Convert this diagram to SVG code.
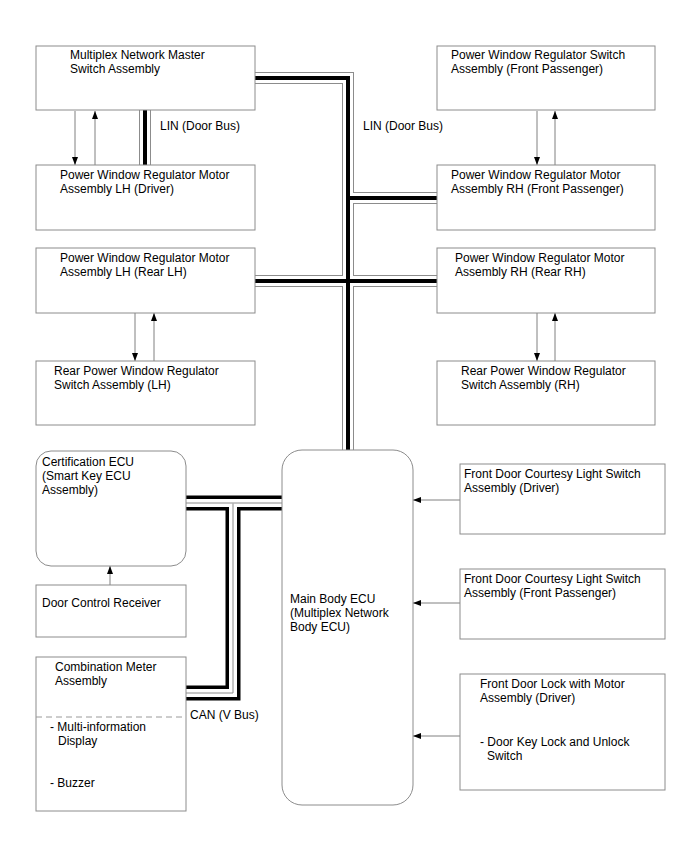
<svg xmlns="http://www.w3.org/2000/svg" width="688" height="852" viewBox="0 0 688 852">
<style>
text{font-family:"Liberation Sans",Arial,sans-serif;font-size:12px;fill:#000}
.box{fill:#fff;stroke:#8c8c8c;stroke-width:1}
.lo{fill:none;stroke:#8c8c8c;stroke-width:12}
.lw{fill:none;stroke:#fff;stroke-width:10}
.lk{fill:none;stroke:#000;stroke-width:4}
.co{fill:none;stroke:#000;stroke-width:15}
.cw{fill:none;stroke:#fff;stroke-width:8}
.cg{fill:none;stroke:#8c8c8c;stroke-width:1}
.ar{fill:none;stroke:#808080;stroke-width:1;marker-end:url(#ah)}
.dash{stroke:#9a9a9a;stroke-width:1;stroke-dasharray:6,4}
</style>
<defs>
<marker id="ah" markerUnits="userSpaceOnUse" markerWidth="8" markerHeight="8" refX="8" refY="3" orient="auto">
<path d="M0,0 L8,3 L0,6 Z" fill="#000"/>
</marker>
</defs>
<rect width="688" height="852" fill="#fff"/>
<g id="connectors">
<path class="lo" d="M255,78 H348 V450 M348,198 H437 M255,281 H437 M145,110 V165"/>
<path class="lw" d="M255,78 H348 V450 M348,198 H437 M255,281 H437 M145,110 V165"/>
<path class="lk" d="M255,78 H348 V450 M348,198 H437 M255,281 H437 M145,110 V165"/>
<path class="co" d="M186,503 H282 M233,503 V693 H186"/>
<path class="cw" d="M186,503 H282 M233,503 V693 H186"/>
<path class="cg" d="M186,503 H282 M233,503.5 V693 H186"/>
<line class="ar" x1="75" y1="111" x2="75" y2="165"/>
<line class="ar" x1="95" y1="165" x2="95" y2="111"/>
<line class="ar" x1="537" y1="111" x2="537" y2="165"/>
<line class="ar" x1="555" y1="165" x2="555" y2="111"/>
<line class="ar" x1="135" y1="313" x2="135" y2="361"/>
<line class="ar" x1="154" y1="361" x2="154" y2="313"/>
<line class="ar" x1="537" y1="313" x2="537" y2="361"/>
<line class="ar" x1="555" y1="361" x2="555" y2="313"/>
<line class="ar" x1="110" y1="585" x2="110" y2="566"/>
<line class="ar" x1="460" y1="500" x2="413" y2="500"/>
<line class="ar" x1="460" y1="603" x2="413" y2="603"/>
<line class="ar" x1="460" y1="736" x2="413" y2="736"/>
<text x="160" y="130">LIN (Door Bus)</text>
<text x="363" y="130">LIN (Door Bus)</text>
<text x="190" y="719">CAN (V Bus)</text>
</g>
<g id="master-switch">
<rect class="box" x="36" y="46" width="219" height="64"/>
<text x="70" y="59">Multiplex Network Master</text>
<text x="70" y="73">Switch Assembly</text>
</g>
<g id="motor-lh-driver">
<rect class="box" x="36" y="165" width="219" height="65"/>
<text x="60" y="179">Power Window Regulator Motor</text>
<text x="60" y="193">Assembly LH (Driver)</text>
</g>
<g id="switch-front-passenger">
<rect class="box" x="437" y="46" width="218" height="64"/>
<text x="451" y="59">Power Window Regulator Switch</text>
<text x="451" y="73">Assembly (Front Passenger)</text>
</g>
<g id="motor-rh-front-passenger">
<rect class="box" x="437" y="165" width="218" height="65"/>
<text x="451" y="179">Power Window Regulator Motor</text>
<text x="451" y="193">Assembly RH (Front Passenger)</text>
</g>
<g id="motor-lh-rear">
<rect class="box" x="36" y="248" width="219" height="65"/>
<text x="60" y="262">Power Window Regulator Motor</text>
<text x="60" y="276">Assembly LH (Rear LH)</text>
</g>
<g id="motor-rh-rear">
<rect class="box" x="437" y="248" width="218" height="65"/>
<text x="455" y="262">Power Window Regulator Motor</text>
<text x="455" y="276">Assembly RH (Rear RH)</text>
</g>
<g id="rear-switch-lh">
<rect class="box" x="36" y="361" width="219" height="64"/>
<text x="54" y="375">Rear Power Window Regulator</text>
<text x="54" y="389">Switch Assembly (LH)</text>
</g>
<g id="rear-switch-rh">
<rect class="box" x="437" y="361" width="218" height="64"/>
<text x="461" y="375">Rear Power Window Regulator</text>
<text x="461" y="389">Switch Assembly (RH)</text>
</g>
<g id="certification-ecu">
<rect class="box" x="36" y="451" width="150" height="115" rx="15" ry="15"/>
<text x="42" y="466">Certification ECU</text>
<text x="42" y="480">(Smart Key ECU</text>
<text x="42" y="494">Assembly)</text>
</g>
<g id="door-control-receiver">
<rect class="box" x="36" y="585" width="150" height="52"/>
<text x="42" y="607">Door Control Receiver</text>
</g>
<g id="combination-meter">
<rect class="box" x="36" y="657" width="150" height="154"/>
<text x="55" y="671">Combination Meter</text>
<text x="55" y="685">Assembly</text>
<line class="dash" x1="36" y1="717" x2="186" y2="717"/>
<text x="50" y="731">- Multi-information</text>
<text x="58" y="745">Display</text>
<text x="50" y="787">- Buzzer</text>
</g>
<g id="main-body-ecu">
<rect class="box" x="282" y="450" width="131" height="355" rx="20" ry="20"/>
<text x="290" y="603">Main Body ECU</text>
<text x="290" y="617">(Multiplex Network</text>
<text x="290" y="631">Body ECU)</text>
</g>
<g id="courtesy-driver">
<rect class="box" x="460" y="464" width="205" height="70"/>
<text x="464" y="478">Front Door Courtesy Light Switch</text>
<text x="464" y="492">Assembly (Driver)</text>
</g>
<g id="courtesy-passenger">
<rect class="box" x="460" y="569" width="205" height="70"/>
<text x="464" y="583">Front Door Courtesy Light Switch</text>
<text x="464" y="597">Assembly (Front Passenger)</text>
</g>
<g id="door-lock-driver">
<rect class="box" x="460" y="674" width="205" height="116"/>
<text x="480" y="688">Front Door Lock with Motor</text>
<text x="480" y="702">Assembly (Driver)</text>
<text x="480" y="746">- Door Key Lock and Unlock</text>
<text x="487" y="760">Switch</text>
</g>
</svg>
